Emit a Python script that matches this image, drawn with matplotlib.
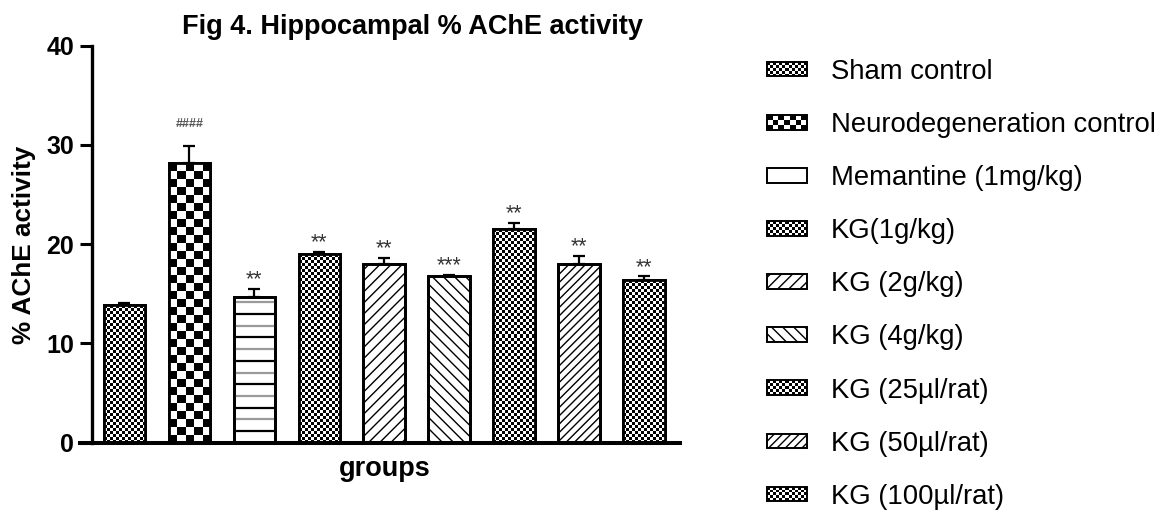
import numpy as np
import matplotlib
matplotlib.use("Agg")
import matplotlib.pyplot as plt
from matplotlib.patches import Rectangle, Patch
from matplotlib.legend_handler import HandlerBase

# ---------------- data ----------------
groups = ["Sham control", "Neurodegeneration control", "Memantine (1mg/kg)",
          "KG(1g/kg)", "KG (2g/kg)", "KG (4g/kg)",
          "KG (25\u00b5l/rat)", "KG (50\u00b5l/rat)", "KG (100\u00b5l/rat)"]
values = [13.9, 28.15, 14.65, 19.0, 18.0, 16.75, 21.55, 18.0, 16.35]
errors = [0.15, 1.7, 0.85, 0.25, 0.6, 0.15, 0.6, 0.8, 0.4]
signif = ["", "####", "**", "**", "**", "***", "**", "**", "**"]
yticks = [0, 10, 20, 30, 40]

title = "Fig 4. Hippocampal % AChE activity"
ylabel = "% AChE activity"
xlabel = "groups"

# ---------------- styles ----------------
patterns = ["fine", "coarse", "hlines", "fine", "///", "\\\\\\", "fine", "////", "fine"]

W, H = 1166, 516
DPI = 100
plt.rcParams["font.family"] = ["Liberation Sans", "DejaVu Sans"]
plt.rcParams["hatch.linewidth"] = 1.0

fig = plt.figure(figsize=(W / DPI, H / DPI), dpi=DPI)

ax_left, ax_right = 91.7, 680.0
ax_top, ax_bottom = 45.7, 442.7
ax = fig.add_axes([ax_left / W, 1 - ax_bottom / H,
                   (ax_right - ax_left) / W, (ax_bottom - ax_top) / H])

x = np.arange(len(values))
bar_w = 0.64
xlim = (-0.505, len(values) - 1 + 0.554)
ax.set_xlim(*xlim)
ax.set_ylim(yticks[0], yticks[-1])

bars = ax.bar(x, values, width=bar_w, color="white", edgecolor="black",
              linewidth=2.0, zorder=2)

# pixel scale
p0 = ax.transData.transform((0, 0))
p1 = ax.transData.transform((1, 1))
sx, sy = p1[0] - p0[0], p1[1] - p0[1]


def checker(ncol, nrow):
    i, j = np.indices((nrow, ncol))
    return ((i + j) % 2).astype(float)


for b, kind in zip(bars, patterns):
    bx, bw, bh = b.get_x(), b.get_width(), b.get_height()
    if kind in ("fine", "coarse"):
        cell = 3.0 if kind == "fine" else 8.0
        ncol = max(1, int(round(bw * sx / cell)))
        nrow = max(1, int(round(bh * sy / cell)))
        im = ax.imshow(checker(ncol, nrow), cmap="gray", vmin=0, vmax=1,
                       extent=(bx, bx + bw, 0, bh), interpolation="nearest",
                       aspect="auto", zorder=2.2)
        im.set_clip_path(b)
    elif kind == "hlines":
        step = 11.7 / sy
        k = 1
        while k * step < bh - step * 0.3:
            ax.hlines(k * step, bx, bx + bw,
                      colors="black" if k % 2 else "#9a9a9a",
                      linewidth=1.6, zorder=2.2)
            k += 1
    else:
        b.set_hatch(kind)

# outlines on top
ax.bar(x, values, width=bar_w, facecolor="none", edgecolor="black",
       linewidth=2.0, zorder=3)

ax.errorbar(x, values, yerr=[np.zeros(len(errors)), errors], fmt="none",
            ecolor="black", elinewidth=1.6, capsize=4, capthick=1.6, zorder=4)

for xi, v, e, s in zip(x, values, errors, signif):
    if not s:
        continue
    if s.startswith("#"):
        ax.annotate(s, (xi, v + e), xytext=(0, 16), textcoords="offset points",
                    ha="center", va="center", fontsize=9, color="#555555",
                    fontweight="bold")
    else:
        ax.annotate(s, (xi, v + e), xytext=(0, 6.5), textcoords="offset points",
                    ha="center", va="center", fontsize=15.5, color="#333333")

ax.set_xlim(*xlim)
ax.set_ylim(yticks[0], yticks[-1])
ax.set_yticks(yticks)
ax.set_yticklabels([str(t) for t in yticks], fontsize=18, fontweight="bold")
ax.set_xticks([])
ax.tick_params(axis="y", length=8.6, width=2.2, pad=4)
for sp in ("top", "right"):
    ax.spines[sp].set_visible(False)
ax.spines["left"].set_linewidth(2.4)
ax.spines["bottom"].set_linewidth(2.9)
ax.spines["bottom"].set_bounds(xlim[0] - 11.7 / sx, xlim[1])

# texts
fig.text(413 / W, 1 - 34 / H, title, ha="center", va="baseline",
         fontsize=19.5, fontweight="bold")
fig.text(384.5 / W, 1 - 476 / H, xlabel, ha="center", va="baseline",
         fontsize=19.5, fontweight="bold")
fig.text(24 / W, 1 - 245 / H, ylabel, ha="center", va="center", rotation=90,
         fontsize=18.8, fontweight="bold")


# ---------------- legend ----------------
class PatternHandler(HandlerBase):
    def __init__(self, kind):
        super().__init__()
        self.kind = kind

    def create_artists(self, legend, orig_handle, xdescent, ydescent, width,
                       height, fontsize, trans):
        x0, y0 = -xdescent, -ydescent
        arts = []
        k = self.kind
        if k in ("fine", "coarse"):
            cell = 2.2 if k == "fine" else 4.0
            ncol = int(round(width / cell))
            nrow = int(round(height / cell))
            cw, ch = width / ncol, height / nrow
            arts.append(Rectangle((x0, y0), width, height, facecolor="white",
                                  edgecolor="none", transform=trans))
            for i in range(nrow):
                for j in range(ncol):
                    if (i + j) % 2 == 0:
                        arts.append(Rectangle((x0 + j * cw, y0 + i * ch), cw, ch,
                                              facecolor="black", edgecolor="none",
                                              transform=trans))
            arts.append(Rectangle((x0, y0), width, height, facecolor="none",
                                  edgecolor="black", linewidth=1.4, transform=trans))
        elif k == "hlines":
            arts.append(Rectangle((x0, y0), width, height, facecolor="white",
                                  edgecolor="black", linewidth=1.4, transform=trans))
        else:
            arts.append(Rectangle((x0, y0), width, height, facecolor="white",
                                  edgecolor="black", hatch=k, linewidth=1.4,
                                  transform=trans))
        return arts


handles = [Patch(label=g) for g in groups]
hmap = {h: PatternHandler(p) for h, p in zip(handles, patterns)}
fs = 19.8
leg = fig.legend(handles=handles, labels=groups, handler_map=hmap,
                 loc="upper left", bbox_to_anchor=(767 / W, 1 - 59 / H),
                 bbox_transform=fig.transFigure, frameon=False, fontsize=fs,
                 handlelength=40 / (fs * DPI / 72), handleheight=12 / (fs * DPI / 72),
                 handletextpad=24 / (fs * DPI / 72), labelspacing=0.985,
                 borderpad=0, borderaxespad=0)

fig.savefig("out.png", dpi=DPI)
